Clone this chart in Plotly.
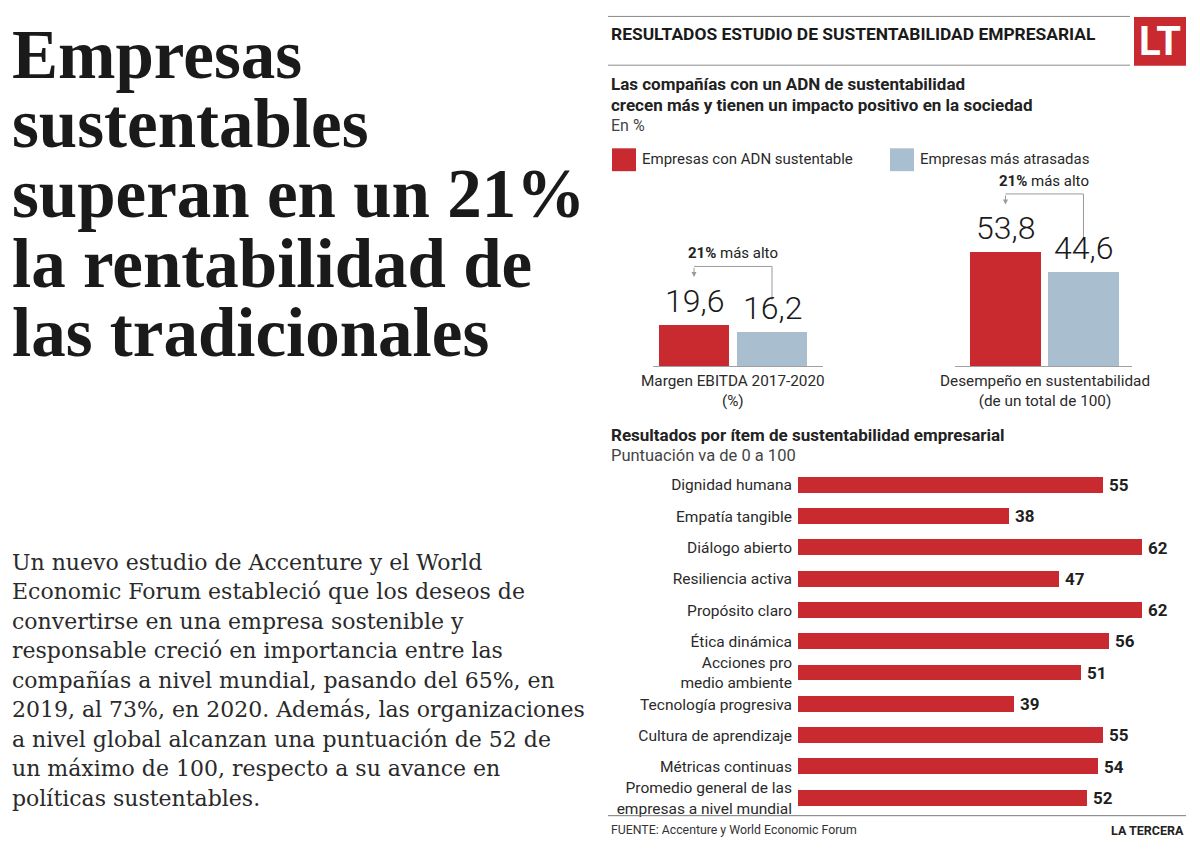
import plotly.graph_objects as go

# ---------------- DATA ----------------
series_names = ["Empresas con ADN sustentable", "Empresas más atrasadas"]
ebitda_values = [19.6, 16.2]
desempeno_values = [53.8, 44.6]
top_categories = ["Margen EBITDA 2017-2020<br>(%)", "Desempeño en sustentabilidad<br>(de un total de 100)"]
diff_label = "21%"

items = [
    "Dignidad humana", "Empatía tangible", "Diálogo abierto", "Resiliencia activa",
    "Propósito claro", "Ética dinámica", "Acciones pro<br>medio ambiente",
    "Tecnología progresiva", "Cultura de aprendizaje", "Métricas continuas",
    "Promedio general de las<br>empresas a nivel mundial",
]
item_scores = [55, 38, 62, 47, 62, 56, 51, 39, 55, 54, 52]

headline_lines = ["Empresas", "sustentables", "superan en un 21%", "la rentabilidad de", "las tradicionales"]
body_lines = [
    "Un nuevo estudio de Accenture y el World",
    "Economic Forum estableció que los deseos de",
    "convertirse en una empresa sostenible y",
    "responsable creció en importancia entre las",
    "compañías a nivel mundial, pasando del 65%, en",
    "2019, al 73%, en 2020. Además, las organizaciones",
    "a nivel global alcanzan una puntuación de 52 de",
    "un máximo de 100, respecto a su avance en",
    "políticas sustentables.",
]

# ---------------- STYLE ----------------
W, H = 1200, 859
RED = "#c92a2f"
BLUE = "#a9bfd0"
DARK = "#222222"
GREY = "#9a9a9a"
SANS = "Roboto, 'Noto Sans', sans-serif"
SERIF = "'Liberation Serif', 'DejaVu Serif', serif"
BODY_SERIF = "'DejaVu Serif', 'Liberation Serif', serif"


def X(px):
    return px / W


def Y(py):
    return 1 - py / H


fig = go.Figure()

# ---- vertical bar charts ----
colors = [RED, BLUE]
for vals, xa, ya in [(ebitda_values, "x", "y"), (desempeno_values, "x2", "y2")]:
    fig.add_trace(go.Bar(
        x=[0, 1], y=vals, marker=dict(color=colors, line=dict(width=0)),
        width=0.9, xaxis=xa, yaxis=ya, showlegend=False, hoverinfo="skip",
    ))

# ---- horizontal bar chart ----
fig.add_trace(go.Bar(
    x=item_scores, y=items, orientation="h", marker=dict(color=RED, line=dict(width=0)),
    width=0.51, xaxis="x3", yaxis="y3", showlegend=False, hoverinfo="skip",
))

BASE_Y = 368
PX_PER_UNIT = 2.13
ytop_px = 168
yrange = [0, (BASE_Y - ytop_px) / PX_PER_UNIT]

common_x = dict(showgrid=False, zeroline=False, showticklabels=False, ticks="",
                showline=True, linecolor="#a0a0a0", linewidth=1, fixedrange=True)
common_y = dict(showgrid=False, zeroline=False, showticklabels=False, ticks="",
                showline=False, range=yrange, fixedrange=True)

fig.update_layout(
    width=W, height=H, autosize=False,
    margin=dict(l=0, r=0, t=0, b=0),
    paper_bgcolor="white", plot_bgcolor="rgba(0,0,0,0)",
    xaxis=dict(domain=[X(653), X(823)], range=[-0.526, 1.654], anchor="y", **common_x),
    yaxis=dict(domain=[Y(BASE_Y), Y(ytop_px)], anchor="x", **common_y),
    xaxis2=dict(domain=[X(955), X(1132)], range=[-0.647, 1.622], anchor="y2", **common_x),
    yaxis2=dict(domain=[Y(BASE_Y), Y(ytop_px)], anchor="x2", **common_y),
    xaxis3=dict(domain=[X(798), X(1185)], range=[0, (1185 - 798) / 5.548], anchor="y3",
                showgrid=False, zeroline=False, showticklabels=False, showline=False, fixedrange=True),
    yaxis3=dict(domain=[Y(817.5), Y(471.5)], anchor="x3", type="category",
                categoryorder="array", categoryarray=items, range=[10.5, -0.5],
                showgrid=False, zeroline=False, showline=False, ticks="",
                tickfont=dict(family=SANS, size=15.5, color="#2a2a2a"), ticklabelstandoff=5,
                fixedrange=True),
    bargap=0,
    showlegend=False,
)

ann = []
shapes = []

# headline
for i, line in enumerate(headline_lines):
    ann.append(dict(x=X(10), y=Y(55 + 70 * i), xref="paper", yref="paper", xanchor="left",
                    yanchor="middle", text=f"<b>{line}</b>", showarrow=False,
                    font=dict(family=SERIF, size=69, color="#1a1a1a")))
# body
for i, line in enumerate(body_lines):
    ann.append(dict(x=X(10), y=Y(565 + 29.6 * i), xref="paper", yref="paper", xanchor="left",
                    yanchor="middle", text=line, showarrow=False,
                    font=dict(family=BODY_SERIF, size=22, color="#2a2a2a")))

# header block
shapes.append(dict(type="line", xref="paper", yref="paper", x0=X(608), x1=X(1130), y0=Y(16.5), y1=Y(16.5),
                   line=dict(color="#8a8a8a", width=1)))
shapes.append(dict(type="line", xref="paper", yref="paper", x0=X(608), x1=X(1130), y0=Y(65.5), y1=Y(65.5),
                   line=dict(color="#8a8a8a", width=1)))
ann.append(dict(x=X(609), y=Y(34), xref="paper", yref="paper", xanchor="left", yanchor="middle",
                text="<b>RESULTADOS ESTUDIO DE SUSTENTABILIDAD EMPRESARIAL</b>", showarrow=False,
                font=dict(family=SANS, size=17.4, color="#1a1a1a")))
shapes.append(dict(type="rect", xref="paper", yref="paper", x0=X(1134), x1=X(1186), y0=Y(66), y1=Y(17),
                   fillcolor=RED, line=dict(width=0)))
ann.append(dict(x=X(1160), y=Y(42), xref="paper", yref="paper", xanchor="center", yanchor="middle",
                text="<b>LT</b>", showarrow=False, font=dict(family=SANS, size=40, color="white")))

# subtitle
ann.append(dict(x=X(609), y=Y(84), xref="paper", yref="paper", xanchor="left", yanchor="middle",
                text="<b>Las compañías con un ADN de sustentabilidad</b>", showarrow=False,
                font=dict(family=SANS, size=17, color=DARK)))
ann.append(dict(x=X(609), y=Y(105), xref="paper", yref="paper", xanchor="left", yanchor="middle",
                text="<b>crecen más y tienen un impacto positivo en la sociedad</b>", showarrow=False,
                font=dict(family=SANS, size=17, color=DARK)))
ann.append(dict(x=X(609), y=Y(126), xref="paper", yref="paper", xanchor="left", yanchor="middle",
                text="En %", showarrow=False, font=dict(family=SANS, size=16, color="#444444")))

# legend
for (sx, name, col) in [(612, series_names[0], RED), (890, series_names[1], BLUE)]:
    shapes.append(dict(type="rect", xref="paper", yref="paper", x0=X(sx), x1=X(sx + 24), y0=Y(172), y1=Y(149),
                       fillcolor=col, line=dict(width=0)))
    ann.append(dict(x=X(sx + 28), y=Y(160), xref="paper", yref="paper", xanchor="left", yanchor="middle",
                    text=name, showarrow=False, font=dict(family=SANS, size=15, color="#2a2a2a")))

# value labels + brackets for vertical charts
for vals, xa, ya, cat, cx in [(ebitda_values, "x", "y", top_categories[0], 733),
                              (desempeno_values, "x2", "y2", top_categories[1], 1045)]:
    for i, v in enumerate(vals):
        ann.append(dict(x=i, y=v, xref=xa, yref=ya, xanchor="center", yanchor="bottom", yshift=3,
                        text=f"{v:.1f}".replace(".", ","), showarrow=False,
                        font=dict(family=SANS, size=32, weight=300, color="#1a1a1a")))
    yb = vals[0] + 27.5
    shapes.append(dict(type="line", xref=xa, yref=ya, x0=0, x1=1, y0=yb, y1=yb,
                       line=dict(color=GREY, width=1)))
    shapes.append(dict(type="line", xref=xa, yref=ya, x0=1, x1=1, y0=yb, y1=vals[1] + 15,
                       line=dict(color=GREY, width=1)))
    ann.append(dict(x=0, y=yb - 5, xref=xa, yref=ya, ax=0, ay=yb, axref=xa, ayref=ya,
                    text="", showarrow=True, arrowhead=2, arrowsize=1, arrowwidth=1, arrowcolor=GREY))
    ann.append(dict(x=0.5, y=yb, xref=xa, yref=ya, xanchor="center", yanchor="bottom", yshift=2,
                    text=f"<b>{diff_label}</b> más alto", showarrow=False,
                    font=dict(family=SANS, size=15, color=DARK)))
    ann.append(dict(x=X(cx), y=Y(372), xref="paper", yref="paper", xanchor="center", yanchor="top",
                    text=cat, showarrow=False, font=dict(family=SANS, size=15.3, color="#2a2a2a")))

# section 2 titles
ann.append(dict(x=X(609), y=Y(437), xref="paper", yref="paper", xanchor="left", yanchor="middle",
                text="<b>Resultados por ítem de sustentabilidad empresarial</b>", showarrow=False,
                font=dict(family=SANS, size=17, color=DARK)))
ann.append(dict(x=X(609), y=Y(458), xref="paper", yref="paper", xanchor="left", yanchor="middle",
                text="Puntuación va de 0 a 100", showarrow=False,
                font=dict(family=SANS, size=16.5, color="#444444")))

# horizontal bar values
for name, v in zip(items, item_scores):
    ann.append(dict(x=v, y=name, xref="x3", yref="y3", xanchor="left", yanchor="middle", xshift=4,
                    text=f"<b>{v}</b>", showarrow=False, font=dict(family=SANS, size=17, color="#1f1f1f")))

# footer
shapes.append(dict(type="line", xref="paper", yref="paper", x0=X(608), x1=X(1186), y0=Y(819.5), y1=Y(819.5),
                   line=dict(color="#7a7a7a", width=1)))
ann.append(dict(x=X(609), y=Y(834), xref="paper", yref="paper", xanchor="left", yanchor="middle",
                text="FUENTE: Accenture y World Economic Forum", showarrow=False,
                font=dict(family=SANS, size=12.3, color="#333333")))
ann.append(dict(x=X(1186), y=Y(834), xref="paper", yref="paper", xanchor="right", yanchor="middle",
                text="<b>LA TERCERA</b>", showarrow=False, font=dict(family=SANS, size=12.5, color="#222222")))

fig.update_layout(annotations=ann, shapes=shapes)
fig.write_html("out.html")
